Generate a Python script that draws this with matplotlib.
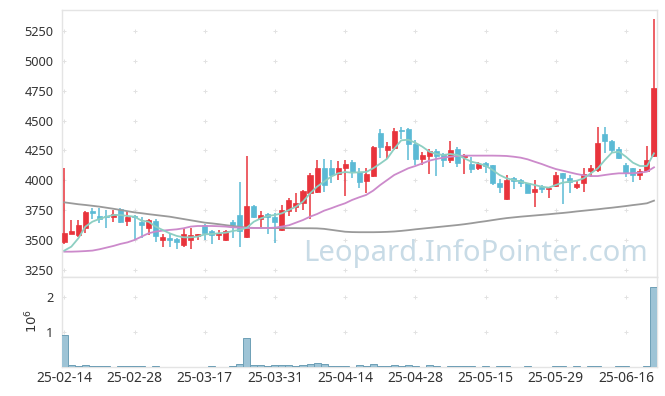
import matplotlib
matplotlib.use("Agg")
import matplotlib.pyplot as plt
import numpy as np

dates = ["25-02-14", "25-02-28", "25-03-17", "25-03-31", "25-04-14",
         "25-04-28", "25-05-15", "25-05-29", "25-06-16"]

opens = [3480, 3555, 3545, 3605, 3740, 3700, 3700, 3695, 3760, 3663,
         3700, 3650, 3600, 3660, 3500, 3520, 3510, 3455, 3500, 3535,
         3625, 3575, 3545, 3500, 3655, 3710, 3530, 3785, 3680, 3715,
         3695, 3585, 3740, 3780, 3808, 3897, 3905, 4100, 4100, 4055,
         4100, 4150, 4073, 3997, 4036, 4393, 4254, 4268, 4420, 4430,
         4305, 4176, 4204, 4248, 4220, 4170, 4262, 4193, 4137, 4101,
         4142, 4128, 3981, 3841, 4017, 4003, 3975, 3905, 3947, 3925,
         3956, 4059, 4023, 3947, 3975, 4081, 4087, 4388, 4330, 4262,
         4128, 4101, 4045, 4081, 4204]
highs = [4100, 3665, 3665, 3745, 3765, 3765, 3750, 3750, 3765, 3745,
         3710, 3695, 3680, 3680, 3555, 3555, 3520, 3600, 3600, 3555,
         3635, 3585, 3585, 3585, 3668, 3990, 4205, 3795, 3745, 3725,
         3725, 3795, 3850, 3895, 3920, 4060, 4170, 4175, 4170, 4160,
         4170, 4170, 4100, 4100, 4290, 4430, 4325, 4435, 4450, 4435,
         4340, 4240, 4260, 4262, 4232, 4330, 4282, 4220, 4198, 4156,
         4156, 4130, 4009, 4045, 4031, 4009, 3981, 4003, 3961, 3947,
         4073, 4064, 4045, 4003, 4101, 4128, 4443, 4450, 4338, 4282,
         4142, 4106, 4092, 4287, 5347]
lows = [3470, 3550, 3525, 3560, 3680, 3645, 3605, 3655, 3640, 3620,
        3500, 3515, 3545, 3480, 3445, 3440, 3425, 3445, 3425, 3500,
        3500, 3465, 3500, 3495, 3515, 3445, 3520, 3682, 3605, 3555,
        3475, 3580, 3700, 3735, 3755, 3680, 3897, 3905, 3975, 4003,
        3865, 4020, 3935, 3890, 4025, 4185, 4175, 4255, 4350, 4170,
        4130, 4130, 4050, 4035, 4115, 4142, 4115, 4053, 4059, 4087,
        4059, 3961, 3897, 3836, 3925, 3947, 3891, 3780, 3891, 3850,
        3942, 3802, 3897, 3928, 3905, 4031, 4073, 4226, 4226, 4176,
        4031, 3989, 4003, 4073, 4198]
closes = [3557, 3580, 3625, 3735, 3730, 3675, 3690, 3720, 3655, 3690,
          3690, 3625, 3670, 3537, 3523, 3500, 3480, 3548, 3540, 3548,
          3560, 3545, 3555, 3576, 3630, 3575, 3785, 3695, 3710, 3690,
          3655, 3750, 3835, 3813, 3910, 4045, 4100, 3960, 4045, 4100,
          4137, 4067, 3990, 4053, 4282, 4282, 4290, 4413, 4410, 4302,
          4176, 4212, 4248, 4204, 4170, 4254, 4148, 4215, 4092, 4137,
          4123, 3975, 3947, 4003, 3997, 3975, 3897, 3925, 3925, 3939,
          4045, 4017, 3989, 3970, 4053, 4106, 4310, 4330, 4254, 4184,
          4059, 4045, 4078, 4170, 4770]

ma_short = [3412, 3445, 3515, 3613, 3654, 3677, 3696, 3710, 3710, 3702,
            3696, 3663, 3654, 3613, 3585, 3557, 3535, 3523, 3523, 3529,
            3548, 3551, 3557, 3562, 3576, 3585, 3604, 3654, 3682, 3702,
            3710, 3724, 3752, 3780, 3822, 3891, 3947, 3989, 4031, 4059,
            4070, 4064, 4068, 4070, 4101, 4140, 4182, 4265, 4335, 4340,
            4315, 4282, 4240, 4221, 4212, 4221, 4212, 4184, 4156, 4142,
            4123, 4087, 4045, 4017, 4003, 3989, 3975, 3961, 3947, 3939,
            3961, 3981, 3989, 3997, 4017, 4059, 4101, 4170, 4232, 4240,
            4198, 4148, 4120, 4120, 4226]
ma_mid = [3403, 3403, 3405, 3408, 3412, 3423, 3437, 3451, 3468, 3481,
          3501, 3529, 3557, 3571, 3579, 3585, 3590, 3599, 3613, 3618,
          3618, 3618, 3616, 3613, 3607, 3604, 3602, 3601, 3601, 3601,
          3604, 3613, 3624, 3646, 3668, 3696, 3718, 3746, 3766, 3788,
          3808, 3836, 3858, 3878, 3914, 3961, 4003, 4045, 4073, 4101,
          4120, 4142, 4165, 4179, 4190, 4198, 4204, 4207, 4207, 4207,
          4207, 4207, 4206, 4204, 4198, 4190, 4176, 4156, 4137, 4115,
          4095, 4081, 4067, 4053, 4042, 4036, 4036, 4045, 4053, 4059,
          4059, 4060, 4064, 4073, 4109]
ma_long = [3816, 3808, 3800, 3794, 3787, 3780, 3771, 3762, 3752, 3742,
           3732, 3725, 3717, 3710, 3703, 3696, 3686, 3676, 3666, 3656,
           3646, 3640, 3633, 3625, 3618, 3611, 3604, 3602, 3601, 3601,
           3601, 3601, 3600, 3600, 3599, 3599, 3598, 3594, 3586, 3578,
           3570, 3567, 3566, 3566, 3566, 3567, 3569, 3572, 3577, 3583,
           3590, 3596, 3602, 3608, 3614, 3620, 3626, 3633, 3641, 3650,
           3658, 3667, 3676, 3684, 3690, 3696, 3701, 3706, 3711, 3716,
           3722, 3727, 3733, 3740, 3746, 3752, 3758, 3765, 3771, 3778,
           3785, 3793, 3800, 3808, 3830]
volumes = [0.91, 0.05, 0.025, 0.05, 0.03, 0.03, 0.03, 0.005, 0.03, 0.03,
           0.03, 0.03, 0.005, 0.03, 0.005, 0.005, 0.005, 0.005, 0.005, 0.005,
           0.005, 0.03, 0.005, 0.005, 0.03, 0.08, 0.84, 0.05, 0.05, 0.03,
           0.05, 0.05, 0.05, 0.03, 0.05, 0.08, 0.11, 0.08, 0.03, 0.03,
           0.03, 0.005, 0.05, 0.03, 0.08, 0.03, 0.03, 0.05, 0.03, 0.05,
           0.03, 0.005, 0.05, 0.03, 0.005, 0.03, 0.03, 0.03, 0.03, 0.005,
           0.03, 0.005, 0.03, 0.03, 0.005, 0.005, 0.03, 0.005, 0.005, 0.005,
           0.03, 0.03, 0.005, 0.03, 0.005, 0.03, 0.03, 0.005, 0.005, 0.03,
           0.03, 0.005, 0.005, 0.03, 2.28]
price_ticks = [3250, 3500, 3750, 4000, 4250, 4500, 4750, 5000, 5250]
vol_ticks = [1, 2]

plt.rcParams['font.family'] = ['Noto Sans', 'DejaVu Sans']

UP = '#e8343c'
DOWN = '#5bbad5'
SPINE = '#e4e4e4'
TXT = '#333333'

fig = plt.figure(figsize=(6.65, 3.96), dpi=100)
ax = fig.add_axes([62/665, 1-277/396, 595/665, 267/396])
axv = fig.add_axes([62/665, 1-367/396, 595/665, 90/396], sharex=ax)

n = len(closes)
x = np.arange(n)
o = np.array(opens, float); c = np.array(closes, float)
h = np.array(highs, float); l = np.array(lows, float)
up = c >= o
cols = np.where(up, UP, DOWN)

ax.vlines(x, l, h, colors=cols, linewidth=1.1, zorder=3)
bottoms = np.minimum(o, c)
heights = np.maximum(np.abs(c - o), 12)
ax.bar(x, heights, bottom=bottoms, width=0.72, color=cols, edgecolor=cols,
       linewidth=0.5, zorder=4)

ax.plot(x, ma_long, color='#9a9a9a', lw=1.3, zorder=5)
ax.plot(x, ma_mid, color='#cc8acb', lw=1.3, zorder=5)
ax.plot(x, ma_short, color='#8dcfc2', lw=1.3, zorder=5)

tick_pos = np.arange(0, n, 10)[:len(dates)]

ax.set_xlim(-0.33, 84.43)
ax.set_ylim(3191, 5426)
ax.set_yticks(price_ticks)
ax.tick_params(axis='y', length=0, pad=6, labelsize=9.2, labelcolor=TXT)
ax.tick_params(axis='x', length=0, labelbottom=False)
gx, gy = np.meshgrid(tick_pos, price_ticks)
ax.scatter(gx.ravel(), gy.ravel(), marker='+', s=7, color='#e2e2e2',
           linewidths=0.7, zorder=1)

ax.text(475 / 665, 1 - 253 / 396, 'Leopard.InfoPointer.com',
        transform=fig.transFigure, fontsize=21,
        color='#c8dbe6', ha='center', va='center', zorder=2)

vols = np.array(volumes) * 1e6
axv.bar(x, vols, width=1.0, color='#9ec4d6', edgecolor='#6e9fb6',
        linewidth=0.7, zorder=3)
axv.set_ylim(0, 2.58e6)
axv.set_yticks([v * 1e6 for v in vol_ticks])
axv.set_yticklabels([str(v) for v in vol_ticks])
axv.tick_params(axis='y', length=0, pad=6, labelsize=9.2, labelcolor=TXT)
axv.set_xticks(tick_pos)
axv.set_xticklabels(dates)
axv.tick_params(axis='x', length=0, pad=3, labelsize=10, labelcolor=TXT)
gx2, gy2 = np.meshgrid(tick_pos, [v * 1e6 for v in vol_ticks])
axv.scatter(gx2.ravel(), gy2.ravel(), marker='+', s=7, color='#e2e2e2',
            linewidths=0.7, zorder=1)
fig.text(32/665, 1-321/396, r'$10^6$', rotation=90, ha='center', va='center',
         fontsize=9.5, color=TXT)

for a in (ax, axv):
    for s in a.spines.values():
        s.set_color(SPINE)
        s.set_linewidth(1.0)

fig.savefig('out.png', dpi=100)
